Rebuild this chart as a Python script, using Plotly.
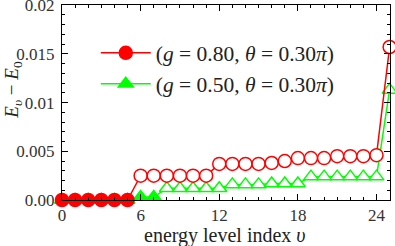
import plotly.graph_objects as go

levels = list(range(26))
red_vals = [0, 0, 0, 0, 0, 0,
            0.0025, 0.0025, 0.0025, 0.0025, 0.0025, 0.0025,
            0.0037, 0.0037, 0.0037, 0.0037, 0.0038, 0.0040,
            0.0043, 0.0043, 0.0043, 0.0045, 0.0045, 0.0045, 0.0046, 0.0157]
green_vals = [0, 0, 0, 0, 0, 0, 0.0003, 0.0003,
              0.0012, 0.0012, 0.0012, 0.0012, 0.0012,
              0.0016, 0.0016, 0.0016, 0.0017, 0.0017, 0.0017,
              0.0024, 0.0024, 0.0024, 0.0024, 0.0024, 0.0024, 0.0113]
red_filled = 6
green_filled = 8
red_name = "(<i>g</i> = 0.80, <i>θ</i> = 0.30<i>π</i>)"
green_name = "(<i>g</i> = 0.50, <i>θ</i> = 0.30<i>π</i>)"
xtick_vals = [0, 6, 12, 18, 24]
ytick_vals = [0, 0.005, 0.01, 0.015, 0.02]
ytick_text = ["0.00", "0.005", "0.01", "0.015", "0.02"]
x_title = "energy level index <i>υ</i>"
y_title = "<i>E</i><sub><i>υ</i></sub> − <i>E</i><sub>0</sub>"

RED = "#ff0000"
GREEN = "#00ff00"
FONT = "Liberation Serif"

fig = go.Figure()
fig.add_trace(go.Scatter(
    x=levels, y=green_vals, mode="lines+markers", showlegend=False,
    line=dict(color=GREEN, width=1.5),
    marker=dict(symbol="triangle-up", size=13,
                color=[GREEN if i < green_filled else "white" for i in levels],
                line=dict(color=GREEN, width=1.5)),
    cliponaxis=False))
fig.add_trace(go.Scatter(
    x=levels, y=red_vals, mode="lines+markers", showlegend=False,
    line=dict(color=RED, width=1.5),
    marker=dict(symbol="circle", size=13,
                color=[RED if i < red_filled else "white" for i in levels],
                line=dict(color=RED, width=1.5)),
    cliponaxis=False))
fig.add_trace(go.Scatter(
    x=[None], y=[None], mode="lines+markers", name=red_name,
    line=dict(color=RED, width=1.5),
    marker=dict(symbol="circle", size=13, color=RED, line=dict(color=RED, width=1.5))))
fig.add_trace(go.Scatter(
    x=[None], y=[None], mode="lines+markers", name=green_name,
    line=dict(color=GREEN, width=1.5),
    marker=dict(symbol="triangle-up", size=13, color=GREEN, line=dict(color=GREEN, width=1.5))))

axis_common = dict(showline=True, linecolor="black", linewidth=1, mirror="allticks",
                   ticks="inside", ticklen=6, tickcolor="black", showgrid=False,
                   zeroline=False, ticklabeloverflow="allow", automargin=False,
                   tickfont=dict(family=FONT, size=17, color="#333"))
fig.update_xaxes(range=[0, 25.03], tickvals=xtick_vals, ticklabelstandoff=0,
                 minor=dict(dtick=1, ticks="inside", ticklen=3, tickcolor="black"),
                 **axis_common)
fig.update_yaxes(range=[0, 0.02001], tickvals=ytick_vals, ticktext=ytick_text,
                 ticklabelstandoff=3,
                 minor=dict(dtick=0.001, ticks="inside", ticklen=3, tickcolor="black"),
                 **axis_common)
fig.add_annotation(text=y_title, xref="paper", yref="paper", x=-0.15, y=0.565,
                   textangle=-90, showarrow=False, xanchor="center", yanchor="middle",
                   font=dict(family=FONT, size=19, color="#222"))
fig.add_annotation(text=x_title, xref="paper", yref="paper", x=0.497, y=-0.184,
                   showarrow=False, xanchor="center", yanchor="middle",
                   font=dict(family=FONT, size=20, color="#222"))
fig.update_layout(
    width=395, height=246,
    margin=dict(l=62, r=5, t=5, b=46),
    plot_bgcolor="white", paper_bgcolor="white",
    font=dict(family=FONT, color="#222"),
    legend=dict(x=0.103, y=0.86, xanchor="left", yanchor="top",
                bgcolor="rgba(0,0,0,0)", font=dict(family=FONT, size=21.5, color="#222"),
                itemwidth=50, tracegroupgap=0),
)
fig.write_html("out.html", config={"displayModeBar": False},
               post_script="document.body.style.margin='0';")
